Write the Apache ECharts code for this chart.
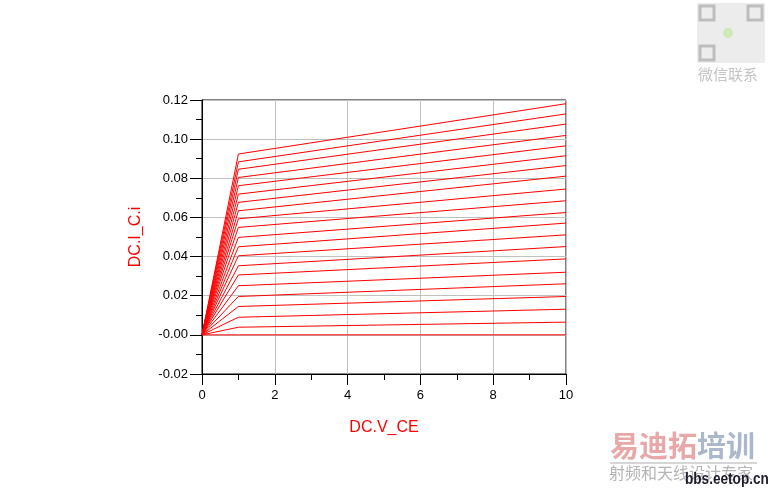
<!DOCTYPE html>
<html>
<head>
<meta charset="utf-8">
<script src="https://cdn.jsdelivr.net/npm/echarts@6/dist/echarts.min.js"></script>
<style>
html,body{margin:0;padding:0;background:#fff;}
#chart{width:769px;height:491px;}
</style>
</head>
<body>
<div id="chart"></div>
<script>
// V_CE sweep points (origin, knee, end of sweep)
const vcePoints = [0, 1, 10];
// I_C at V_CE = 1 (knee) for each curve, top to bottom
const icAtKnee = [0.0924, 0.0884, 0.0846, 0.0804, 0.0762, 0.0719, 0.0677, 0.0634, 0.0593, 0.0549,
                  0.0498, 0.0450, 0.0404, 0.0353, 0.0306, 0.0251, 0.0196, 0.0145, 0.0090, 0.0039, 0];
// I_C at V_CE = 10 for each curve, top to bottom
const icAtEnd = [0.1181, 0.1129, 0.1077, 0.1019, 0.0966, 0.0915, 0.0865, 0.0811, 0.0745, 0.0685,
                 0.0625, 0.0571, 0.0511, 0.0451, 0.0388, 0.0320, 0.0261, 0.0196, 0.0131, 0.0065, 0];
const xTicks = [0, 2, 4, 6, 8, 10];
const yTicks = ['-0.02', '-0.00', '0.02', '0.04', '0.06', '0.08', '0.10', '0.12'];

const chart = echarts.init(document.getElementById('chart'), null, {renderer: 'canvas'});

const series = icAtKnee.map((k, i) => ({
  type: 'line',
  data: [[vcePoints[0], 0], [vcePoints[1], k], [vcePoints[2], icAtEnd[i]]],
  showSymbol: false,
  symbol: 'none',
  lineStyle: {color: '#ff0000', width: 1},
  itemStyle: {color: '#ff0000'},
  animation: false,
  z: 3
}));

const font = 'Arial, "Liberation Sans", sans-serif';

chart.setOption({
  backgroundColor: '#ffffff',
  animation: false,
  grid: {left: 202, top: 100, width: 364, height: 274, show: true, borderColor: '#000', borderWidth: 1, backgroundColor: 'transparent'},
  xAxis: {
    type: 'value', min: 0, max: 10, interval: 2,
    name: 'DC.V_CE', nameLocation: 'middle', nameGap: 46,
    nameTextStyle: {color: '#ff0000', fontSize: 16, fontFamily: font},
    axisLine: {show: true, onZero: false, lineStyle: {color: '#000', width: 1}},
    axisTick: {show: true, inside: false, length: 11, lineStyle: {color: '#000'}},
    minorTick: {show: true, splitNumber: 2, length: 6, lineStyle: {color: '#000'}},
    axisLabel: {color: '#000', fontSize: 13, fontFamily: font, margin: 15,
      formatter: v => xTicks.includes(Math.round(v)) ? String(Math.round(v)) : ''},
    splitLine: {show: true, lineStyle: {color: '#c0c0c0', width: 1}}
  },
  yAxis: {
    type: 'value', min: -0.02, max: 0.12, interval: 0.02,
    name: 'DC.I_C.i', nameLocation: 'middle', nameGap: 58,
    nameTextStyle: {color: '#ff0000', fontSize: 16, fontFamily: font},
    axisLine: {show: true, onZero: false, lineStyle: {color: '#000', width: 1}},
    axisTick: {show: true, inside: false, length: 12, lineStyle: {color: '#000'}},
    minorTick: {show: true, splitNumber: 2, length: 6, lineStyle: {color: '#000'}},
    axisLabel: {color: '#000', fontSize: 13, fontFamily: font, margin: 14,
      formatter: v => yTicks[Math.round((v + 0.02) / 0.02)]},
    splitLine: {show: true, lineStyle: {color: '#c0c0c0', width: 1}}
  },
  graphic: [
    // QR-like watermark block
    {type: 'rect', shape: {x: 697, y: 3, width: 68, height: 60}, style: {fill: '#ececec'}, z: 0},
    {type: 'rect', shape: {x: 700, y: 6, width: 14, height: 14}, style: {fill: 'none', stroke: '#bdbdbd', lineWidth: 3}},
    {type: 'rect', shape: {x: 748, y: 6, width: 14, height: 14}, style: {fill: 'none', stroke: '#bdbdbd', lineWidth: 3}},
    {type: 'rect', shape: {x: 700, y: 46, width: 14, height: 14}, style: {fill: 'none', stroke: '#bdbdbd', lineWidth: 3}},
    {type: 'circle', shape: {cx: 728, cy: 33, r: 5}, style: {fill: '#cfe8b8'}},
    {type: 'text', left: 698, top: 67, style: {text: '微信联系', fill: '#c4c4c4', font: '15px "Noto Sans CJK SC"'}},
    // site logo watermark
    {type: 'text', left: 610, top: 431, style: {
      text: '{a|易迪拓}{b|培训}',
      rich: {
        a: {fill: '#e8a8a8', font: 'bold 29px "Noto Sans CJK SC"'},
        b: {fill: '#abb8cc', font: 'bold 29px "Noto Sans CJK SC"'}
      }}},
    {type: 'line', shape: {x1: 610, y1: 463, x2: 757, y2: 463}, style: {stroke: '#c8c8c8', lineWidth: 1.5}},
    {type: 'text', left: 609, top: 465, style: {text: '射频和天线设计专家', fill: '#b4b4b4', font: '16px "Noto Sans CJK SC"'}},
    {type: 'text', x: 685, y: 471, scaleX: 0.8, style: {text: 'bbs.eetop.cn', fill: '#1c1c2c', font: 'bold 17px Arial, "Liberation Sans", sans-serif'}}
  ],
  series: series
});
</script>
</body>
</html>
